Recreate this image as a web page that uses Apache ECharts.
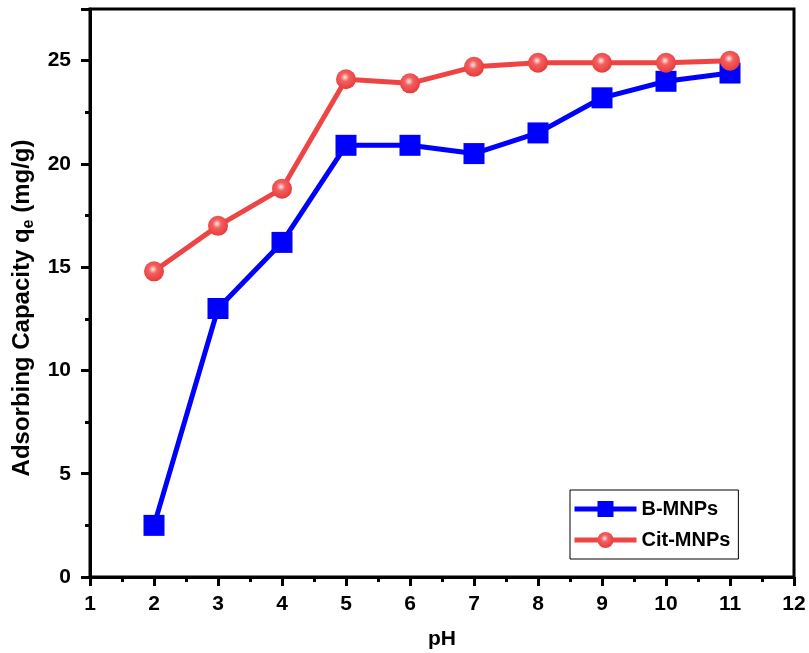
<!DOCTYPE html>
<html><head><meta charset="utf-8">
<script src="https://cdn.jsdelivr.net/npm/echarts@6/dist/echarts.min.js"></script>
<style>html,body{margin:0;padding:0;background:#fff}#c{width:809px;height:653px}</style>
</head><body><div id="c"></div>
<script>
const pH = [2, 3, 4, 5, 6, 7, 8, 9, 10, 11];
const bMNPs = [2.5, 13.0, 16.2, 20.9, 20.9, 20.5, 21.5, 23.2, 24.0, 24.4];
const citMNPs = [14.8, 17.0, 18.8, 24.1, 23.9, 24.7, 24.9, 24.9, 24.9, 25.0];

const chart = echarts.init(document.getElementById('c'));
const font = 'Liberation Sans, Arial, sans-serif';
const redGrad = new echarts.graphic.RadialGradient(0.45, 0.4, 0.6, [
  {offset: 0, color: '#ffe8e8'},
  {offset: 0.35, color: '#f26060'},
  {offset: 1, color: '#e83a3a'}
]);
chart.setOption({
  animation: false,
  grid: {left: 90, right: 15, top: 9, bottom: 76, outerBoundsMode: 'none', show: true, borderColor: '#000', borderWidth: 3},
  xAxis: {
    type: 'value', min: 1, max: 12, interval: 1,
    name: 'pH', nameLocation: 'middle', nameGap: 52,
    nameTextStyle: {fontFamily: font, fontWeight: 'bold', fontSize: 21, color: '#000'},
    axisLine: {lineStyle: {color: '#000', width: 3}},
    axisTick: {inside: false, length: 9, lineStyle: {width: 3, color: '#000'}},
    minorTick: {show: true, splitNumber: 2, length: 5, lineStyle: {width: 3, color: '#000'}},
    axisLabel: {fontFamily: font, fontWeight: 'bold', fontSize: 21, color: '#000', margin: 17},
    splitLine: {show: false}
  },
  yAxis: {
    type: 'value', min: 0, max: 27.5, interval: 5,
    name: '{a|Adsorbing Capacity q}{s|e}{a| (mg/g)}', nameLocation: 'middle', nameGap: 51,
    nameTextStyle: {fontFamily: font, fontWeight: 'bold', fontSize: 24, color: '#000', padding: [0, 30, 0, 0],
      rich: {a: {fontFamily: font, fontWeight: 'bold', fontSize: 24, color: '#000'},
             s: {fontFamily: font, fontWeight: 'bold', fontSize: 16, color: '#000', padding: [13, 0, 0, 0]}}},
    axisLine: {lineStyle: {color: '#000', width: 3}},
    axisTick: {inside: false, length: 9, lineStyle: {width: 3, color: '#000'}},
    minorTick: {show: true, splitNumber: 2, length: 5, lineStyle: {width: 3, color: '#000'}},
    axisLabel: {fontFamily: font, fontWeight: 'bold', fontSize: 21, color: '#000', margin: 19, showMaxLabel: false},
    splitLine: {show: false}
  },
  legend: {
    left: 570, top: 490, orient: 'vertical', itemGap: 11, itemWidth: 62, itemHeight: 20,
    borderColor: '#000', borderWidth: 1, padding: [9, 8, 9, 2],
    lineStyle: {width: 5},
    textStyle: {fontFamily: font, fontWeight: 'bold', fontSize: 20, color: '#000'},
    data: ['B-MNPs', 'Cit-MNPs']
  },
  series: [
    {
      name: 'B-MNPs', type: 'line', data: pH.map((x, i) => [x, bMNPs[i]]),
      symbol: 'rect', symbolSize: 21,
      lineStyle: {color: '#0000ff', width: 5}, itemStyle: {color: '#0000ff'}, z: 2
    },
    {
      name: 'Cit-MNPs', type: 'line', data: pH.map((x, i) => [x, citMNPs[i]]),
      symbol: 'circle', symbolSize: 20,
      lineStyle: {color: '#ee4444', width: 5}, itemStyle: {color: redGrad}, z: 3
    }
  ]
});
</script></body></html>
